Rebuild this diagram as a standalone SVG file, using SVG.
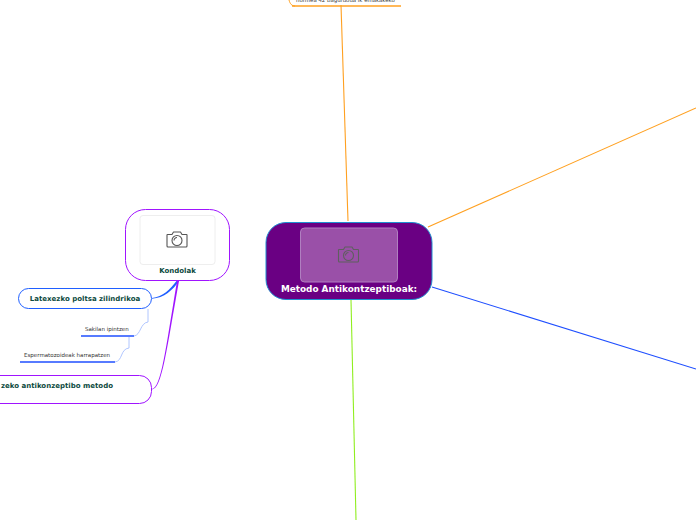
<svg xmlns="http://www.w3.org/2000/svg" width="696" height="520" viewBox="0 0 696 520">
<defs>
<g id="cam" fill="none" stroke-width="1.100" stroke-linejoin="round">
<path d="M-9.500 -5.500H-5L-3.500 -8H3.500L5 -5.500H9.500Q10 -5.500 10 -5V6Q10 7 9 7H-9Q-10 7 -10 6V-5Q-10 -5.500 -9.500 -5.500Z"/>
<circle cx="0" cy="0.500" r="5"/>
<path d="M-3 0.500A3 3 0 0 1 0 -2.500"/>
</g>
</defs>
<style>
text{font-family:"DejaVu Sans",Verdana,sans-serif}
.b{font-weight:700;fill:#0b4a3e;font-size:7px}
.s{fill:#333;font-size:5.500px}
.c{fill:none}
</style>
<rect width="696" height="520" fill="#fff"/>
<g id="connectors">
<path class="c" stroke="#ffa020" stroke-width="1.100" d="M341 5L348 221"/>
<path class="c" stroke="#ffa020" stroke-width="1.100" d="M428 227L696 108"/>
<path class="c" stroke="#1f4fff" stroke-width="1.100" d="M432 287L696 369"/>
<path class="c" stroke="#90ee20" stroke-width="1.100" d="M351 300L356 520"/>
<path fill="#1f5fff" d="M152 298C163 297 170 289 176.500 281L179 281C173 290 164 298 152 298.700Z"/>
<path fill="#a014ff" d="M152 388.900C161 388 165.500 350 177 281L179 281C166.500 350 162 389 152 389.400Z"/>
<path class="c" stroke="#9db8ff" stroke-width="0.800" d="M148 309V322C140 323 141 335 134 336"/>
<path class="c" stroke="#9db8ff" stroke-width="0.800" d="M129 337V348C120 349 123 361 115 362"/>
<path class="c" stroke="#ffa020" stroke-width="1" d="M289 0C290 4 292 6 295 6"/>
</g>
<g id="node-top">
<text x="296" y="2" font-size="5.400" fill="#333">normea 42 bagurdoua ik emakakeko</text>
<path class="c" stroke="#ffa020" stroke-width="1.300" d="M292 6H401"/>
</g>
<g id="node-root">
<rect x="266" y="222.500" width="166" height="77" rx="20" fill="#6a0083" stroke="#1f8fd0" stroke-width="1"/>
<rect x="300.500" y="228" width="97" height="54" rx="4" fill="#9a50a8" stroke="#b07fc0" stroke-width="1"/>
<use href="#cam" transform="translate(348.500,255)" stroke="#5f5f5f"/>
<text x="349" y="292" text-anchor="middle" font-size="8.900" font-weight="700" fill="#fff">Metodo Antikontzeptiboak:</text>
</g>
<g id="node-kondolak">
<rect x="125.500" y="209.500" width="104" height="71" rx="20" fill="#fff" stroke="#a014ff" stroke-width="1"/>
<rect x="140" y="215.500" width="75" height="49" rx="3" fill="#fff" stroke="#eee" stroke-width="1"/>
<use href="#cam" transform="translate(177,240)" stroke="#555"/>
<text x="177.500" y="273" text-anchor="middle" class="b">Kondolak</text>
</g>
<g id="node-poltsa">
<rect x="18.500" y="288.500" width="133" height="20" rx="10" fill="#fff" stroke="#1f5fff" stroke-width="1"/>
<text x="85" y="301" text-anchor="middle" class="b">Latexezko poltsa zilindrikoa</text>
</g>
<g id="node-sakilan">
<text x="85" y="331" class="s">Sakilan ipintzen</text>
<path class="c" stroke="#1f4fff" stroke-width="1.400" d="M81 336H134"/>
</g>
<g id="node-esperma">
<text x="24" y="357" class="s">Espermatozoideak harrapatzen</text>
<path class="c" stroke="#1f4fff" stroke-width="1.400" d="M20 362H115"/>
</g>
<g id="node-metodo">
<rect x="-30" y="375.500" width="181.500" height="28" rx="12" fill="#fff" stroke="#a014ff" stroke-width="1"/>
<text x="113" y="388" text-anchor="end" class="b">zeko antikonzeptibo metodo</text>
</g>
</svg>
